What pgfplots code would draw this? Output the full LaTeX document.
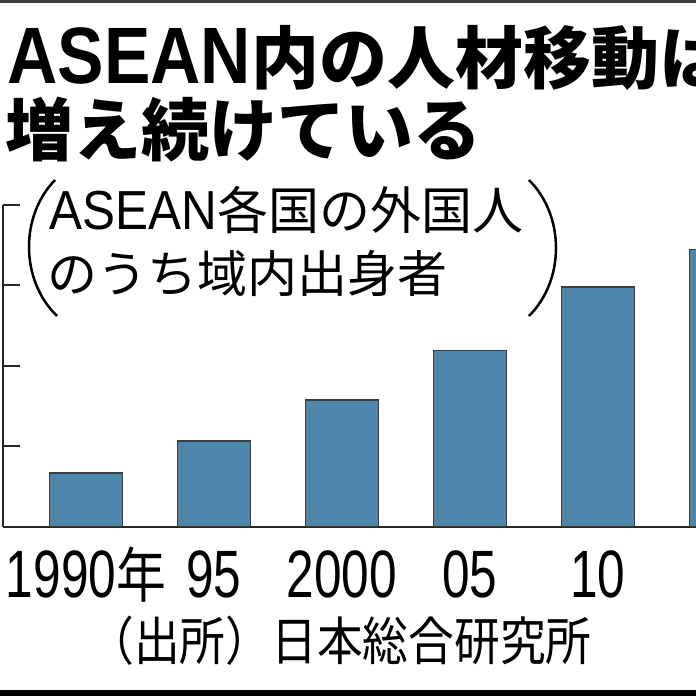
\documentclass[border=0pt]{standalone}
\usepackage{pgfplots}
\pgfplotsset{compat=1.18}
\usepackage{fontspec}
\setmainfont{Liberation Sans}
\newfontfamily\jp{Noto Sans CJK JP}
\newfontfamily\latT[FakeStretch=0.87]{Liberation Sans}
\newfontfamily\latS[FakeStretch=0.9]{Liberation Sans}
\newfontfamily\latL[FakeStretch=0.74]{Liberation Sans}
\newfontfamily\jpL[FakeStretch=0.83]{Noto Sans CJK JP}
\newfontfamily\jpS[FakeStretch=0.88]{Noto Sans CJK JP}
\definecolor{barblue}{RGB}{79,134,172}
\definecolor{baredge}{RGB}{60,60,60}
\pgfplotstableread{
x val
0 0.67
1 1.07
2 1.58
3 2.19
4 2.98
5 3.45
}\datatable
\begin{document}
\begin{tikzpicture}[x=0.5pt,y=0.5pt]
\useasboundingbox (0,0) rectangle (696,696);
\clip (0,0) rectangle (696,696);
\fill[white] (0,0) rectangle (696,696);
% frame strips
\fill[black!75] (0,693) rectangle (696,696);
\fill[black] (0,0) rectangle (696,6);
% title
\node[anchor=base west, inner sep=0] at (7,612)
  {\fontsize{40}{40}\selectfont\latT\bfseries ASEAN{\jp\bfseries\fontsize{34}{40}\selectfont 内の人材移動は}};
\node[anchor=base west, inner sep=0] at (5,540)
  {\jp\bfseries\fontsize{34}{40}\selectfont 増え続けている};
% subtitle
\node[anchor=base west, inner sep=0] at (49,466)
  {\latS\fontsize{27.5}{28}\selectfont ASEAN{\jp\fontsize{25.5}{28}\selectfont 各国の外国人}};
\node[anchor=base west, inner sep=0] at (47,403)
  {\jp\fontsize{25}{28}\selectfont のうち域内出身者};
\draw[line width=1.25pt] (55,516) .. controls (20,480) and (20,416) .. (57,380);
\draw[line width=1.25pt] (529,516) .. controls (565,480) and (565,416) .. (529,380);
% source
\node[anchor=base, inner sep=0] at (340,35)
  {\jpS\fontsize{26}{28}\selectfont （出所）日本総合研究所};
\coordinate (AX) at (3,169);
\begin{axis}[
  at={(AX)}, anchor=south west,
  scale only axis, width=346.5pt, height=161pt,
  xmin=-0.648, xmax=4.766, ymin=0, ymax=4,
  axis x line*=bottom, axis y line*=left,
  axis line style={line width=1pt, black!85},
  ytick={0,1,2,3,4}, yticklabels={},
  tick align=inside, major tick length=8.5pt,
  ytick style={line width=1pt, black!85},
  xtick={0,1,2,3,4,5},
  xtick style={draw=none},
  xticklabels={{1990{\jpL\fontsize{30}{32}\selectfont 年}},{95},{2000},{05},{10},{15}},
  xticklabel style={font=\latL\fontsize{33.5}{36}\selectfont, anchor=base, yshift=-35.5pt, inner sep=0pt},
  clip=true,
]
\addplot[ybar, bar width=36.5pt, fill=barblue, draw=baredge, line width=0.75pt] table[x=x, y=val] {\datatable};
\end{axis}
\end{tikzpicture}
\end{document}
